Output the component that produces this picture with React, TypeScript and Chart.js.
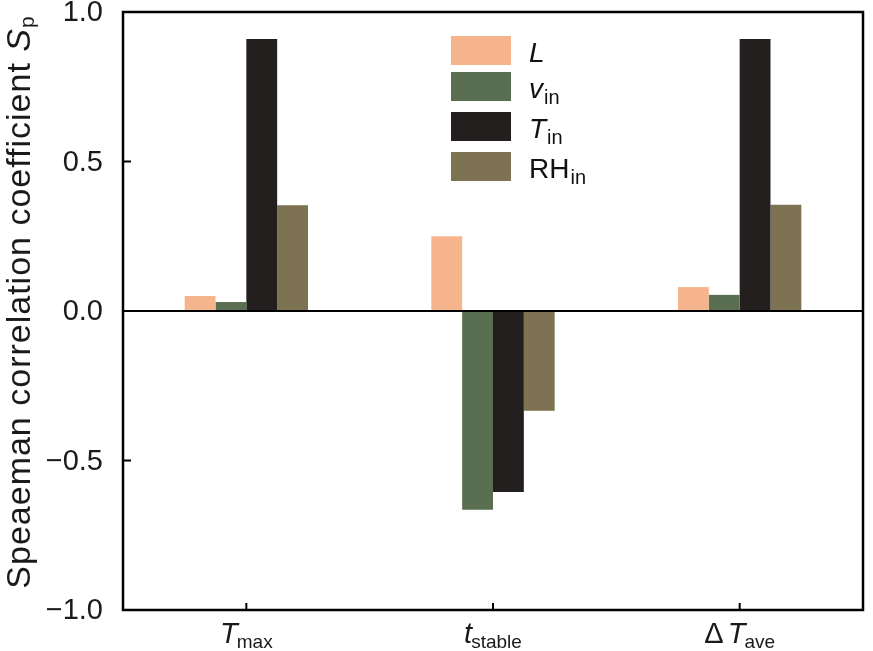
import React, { useEffect, useRef } from "react";
import { Chart, registerables } from "chart.js";
Chart.register(...registerables);

const categories = ["Tmax", "tstable", "dTave"];
const xLabelMain = ["T", "t", "ΔT"];
const xLabelSub = ["max", "stable", "ave"];
const seriesMain = ["L", "v", "T", "RH"];
const seriesSub = ["", "in", "in", "in"];
const seriesItalic = [true, true, true, false];
const seriesColors = ["#F5B48C", "#5A6E52", "#231F1E", "#7D7352"];
const valuesL = [0.05, 0.25, 0.08];
const valuesV = [0.03, -0.665, 0.054];
const valuesT = [0.91, -0.605, 0.91];
const valuesRH = [0.354, -0.334, 0.355];
const yTickValues = [-1, -0.5, 0, 0.5, 1];
const yTickLabels = ["−1.0", "−0.5", "0.0", "0.5", "1.0"];
const yTitleMain = "Speaeman correlation coefficient ";
const yTitleSym = "S";
const yTitleSub = "p";

const FONT = "'Liberation Sans', Arial, sans-serif";

const customPlugin = {
  id: "custom",
  afterDraw(chart: any) {
    const ctx = chart.ctx;
    const { left, right, top, bottom } = chart.chartArea;
    const x = chart.scales.x;
    const y = chart.scales.y;
    ctx.save();
    ctx.strokeStyle = "#000";
    ctx.lineWidth = 2.5;
    ctx.beginPath();
    ctx.rect(left, top, right - left, bottom - top);
    ctx.stroke();
    // zero line
    ctx.lineWidth = 2;
    ctx.beginPath();
    const y0 = y.getPixelForValue(0);
    ctx.moveTo(left, y0);
    ctx.lineTo(right, y0);
    ctx.stroke();
    // y ticks inward
    yTickValues.forEach((v) => {
      const py = y.getPixelForValue(v);
      ctx.beginPath();
      ctx.moveTo(left, py);
      ctx.lineTo(left + 8, py);
      ctx.stroke();
    });
    // y tick labels
    ctx.fillStyle = "#1a1a1a";
    ctx.font = `29px ${FONT}`;
    ctx.textAlign = "right";
    ctx.textBaseline = "middle";
    yTickValues.forEach((v, i) => {
      const py = y.getPixelForValue(v);
      ctx.fillText(yTickLabels[i], left - 20, py + 1);
    });
    // x ticks and labels
    categories.forEach((c, i) => {
      const px = x.getPixelForValue(i);
      ctx.beginPath();
      ctx.moveTo(px, bottom);
      ctx.lineTo(px, bottom - 7);
      ctx.stroke();
      ctx.textBaseline = "alphabetic";
      ctx.textAlign = "left";
      const main = xLabelMain[i];
      let w1;
      let wd = 0;
      if (main.startsWith("Δ")) {
        ctx.font = `29px ${FONT}`;
        wd = ctx.measureText("Δ").width + 4;
        ctx.font = `italic 29px ${FONT}`;
        w1 = wd + ctx.measureText("T").width;
      } else {
        ctx.font = `italic 29px ${FONT}`;
        w1 = ctx.measureText(main).width;
      }
      ctx.font = `19px ${FONT}`;
      const w2 = ctx.measureText(xLabelSub[i]).width;
      const total = w1 + w2 - 1;
      const sx = px - total / 2;
      const base = 643;
      if (main.startsWith("Δ")) {
        ctx.font = `29px ${FONT}`;
        ctx.fillText("Δ", sx, base);
        ctx.font = `italic 29px ${FONT}`;
        ctx.fillText("T", sx + wd, base);
      } else {
        ctx.font = `italic 29px ${FONT}`;
        ctx.fillText(main, sx, base);
      }
      ctx.font = `19px ${FONT}`;
      ctx.fillText(xLabelSub[i], sx + w1 - 1, base + 5);
    });
    // y title
    ctx.save();
    ctx.translate(21, 0);
    ctx.rotate(-Math.PI / 2);
    (ctx as any).letterSpacing = "1px";
    ctx.font = `34px ${FONT}`;
    const wm = ctx.measureText(yTitleMain).width;
    ctx.font = `italic 34px ${FONT}`;
    const ws = ctx.measureText(yTitleSym).width;
    ctx.font = `21px ${FONT}`;
    const wsub = ctx.measureText(yTitleSub).width;
    const tot = wm + ws + wsub;
    const cy = 302;
    const tx = -cy - tot / 2;
    ctx.textBaseline = "middle";
    ctx.textAlign = "left";
    ctx.font = `34px ${FONT}`;
    ctx.fillText(yTitleMain, tx, 0);
    ctx.font = `italic 34px ${FONT}`;
    ctx.fillText(yTitleSym, tx + wm, 0);
    ctx.font = `21px ${FONT}`;
    ctx.fillText(yTitleSub, tx + wm + ws, 7);
    (ctx as any).letterSpacing = "0px";
    ctx.restore();
    // legend
    const boxX = 451;
    const boxW = 60;
    const boxH = 29;
    const boxTops = [36, 72, 112, 152];
    seriesMain.forEach((m, i) => {
      ctx.fillStyle = seriesColors[i];
      ctx.fillRect(boxX, boxTops[i], boxW, boxH);
      ctx.fillStyle = "#111";
      ctx.textAlign = "left";
      ctx.textBaseline = "alphabetic";
      ctx.font = `${seriesItalic[i] ? "italic " : ""}28px ${FONT}`;
      const base = boxTops[i] + 26;
      ctx.fillText(m, 529, base);
      const mw = ctx.measureText(m).width;
      if (seriesSub[i]) {
        ctx.font = `20px ${FONT}`;
        ctx.fillText(seriesSub[i], 529 + mw + 1, base + 6);
      }
    });
    ctx.restore();
  },
};

export default function App() {
  const ref = useRef<HTMLCanvasElement>(null);
  useEffect(() => {
    if (!ref.current) return;
    const seriesValues = [valuesL, valuesV, valuesT, valuesRH];
    const chart = new Chart(ref.current, {
      type: "bar",
      data: {
        labels: categories,
        datasets: seriesValues.map((vals, i) => ({
          label: seriesMain[i] + seriesSub[i],
          data: vals,
          backgroundColor: seriesColors[i],
          borderWidth: 0,
          categoryPercentage: 0.5,
          barPercentage: 1.0,
        })),
      },
      options: {
        animation: false,
        responsive: false,
        maintainAspectRatio: false,
        layout: { padding: { top: 12, right: 10, bottom: 0, left: 0 } },
        plugins: { legend: { display: false }, tooltip: { enabled: false } },
        scales: {
          x: {
            grid: { display: false },
            border: { display: false },
            ticks: { display: false },
            afterFit: (s: any) => {
              s.height = 41;
            },
          },
          y: {
            min: -1,
            max: 1,
            grid: { display: false },
            border: { display: false },
            ticks: { display: false, stepSize: 0.5 },
            afterFit: (s: any) => {
              s.width = 123;
            },
          },
        },
      },
      plugins: [customPlugin],
    });
    return () => chart.destroy();
  }, []);
  return (
    <div style={{ position: "absolute", left: 0, top: 0, width: 873, height: 651, background: "#fff" }}>
      <canvas ref={ref} width={873} height={651} style={{ width: 873, height: 651 }} />
    </div>
  );
}
